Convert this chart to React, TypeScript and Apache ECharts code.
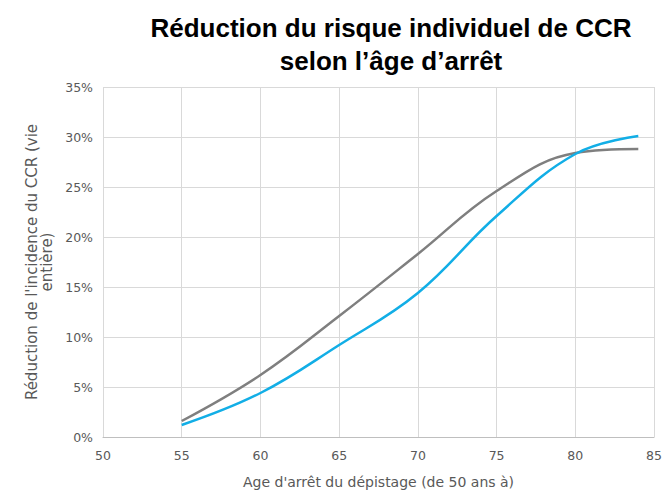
import React, { useEffect, useRef } from "react";
import * as echarts from "echarts";

const ages = [55, 60, 65, 70, 75, 80, 84];
const greySeries = [1.6, 6.2, 12.1, 18.3, 24.6, 28.4, 28.8];
const cyanSeries = [1.2, 4.4, 9.2, 14.4, 22.1, 28.3, 30.1];
const yTicks = [0, 5, 10, 15, 20, 25, 30, 35];
const titleText = "Réduction du risque individuel de CCR\nselon l’âge d’arrêt";
const xName = "Age d'arrêt du dépistage (de 50 ans à)";
const yName = "Réduction de l'incidence du CCR (vie\nentière)";

export default function App() {
  const ref = useRef<HTMLDivElement>(null);
  useEffect(() => {
    if (!ref.current) return;
    const chart = echarts.init(ref.current, null, { renderer: "svg" });
    const font = "'DejaVu Sans', sans-serif";
    chart.setOption({
      animation: false,
      backgroundColor: "#ffffff",
      title: {
        text: titleText,
        left: 386,
        textAlign: "center",
        top: 6,
        textStyle: {
          fontFamily: "'Liberation Sans', Arial, sans-serif",
          fontWeight: "bold",
          fontSize: 26,
          lineHeight: 33,
          color: "#000000",
        },
      },
      grid: { left: 103, right: 10, top: 87, bottom: 57 },
      xAxis: {
        type: "value",
        min: 50,
        max: 85,
        interval: 5,
        name: xName,
        nameLocation: "middle",
        nameGap: 38,
        nameTextStyle: { fontFamily: font, fontSize: 14, color: "#595959" },
        axisLine: { show: true, lineStyle: { color: "#bfbfbf" } },
        axisTick: { show: false },
        axisLabel: { fontFamily: font, fontSize: 12.5, color: "#595959", margin: 12 },
        splitLine: { show: true, lineStyle: { color: "#d9d9d9" } },
      },
      yAxis: {
        type: "value",
        min: 0,
        max: 35,
        interval: 5,
        name: yName,
        nameLocation: "middle",
        nameGap: 40,
        nameTextStyle: { fontFamily: font, fontSize: 15, color: "#595959", lineHeight: 15 },
        axisLine: { show: false },
        axisTick: { show: false },
        axisLabel: {
          fontFamily: font,
          fontSize: 12.5,
          color: "#595959",
          margin: 10,
          formatter: (v: number) => (yTicks.includes(v) ? v + "%" : ""),
        },
        splitLine: { show: true, lineStyle: { color: "#d9d9d9" } },
      },
      series: [
        {
          type: "line",
          data: ages.map((a, i) => [a, greySeries[i]]),
          smooth: 0.4,
          showSymbol: false,
          lineStyle: { color: "#7f7f7f", width: 2.5 },
        },
        {
          type: "line",
          data: ages.map((a, i) => [a, cyanSeries[i]]),
          smooth: 0.4,
          showSymbol: false,
          lineStyle: { color: "#12aee6", width: 2.5 },
        },
      ],
    });
    return () => chart.dispose();
  }, []);
  return (
    <div
      ref={ref}
      style={{ width: 665, height: 494, position: "fixed", left: 0, top: 0 }}
    />
  );
}
